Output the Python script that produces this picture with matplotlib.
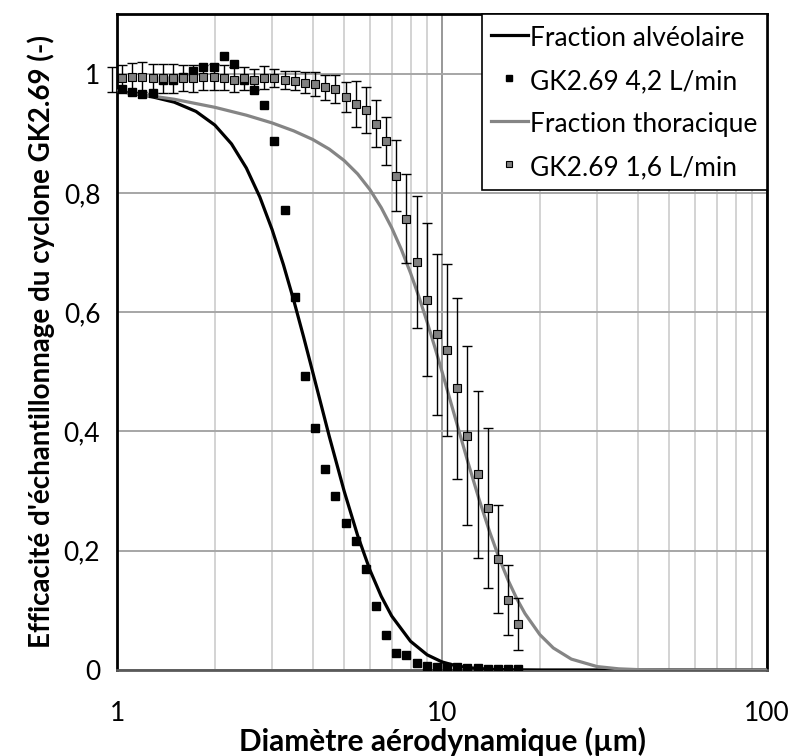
import matplotlib
matplotlib.use('Agg')
import matplotlib.pyplot as plt
from matplotlib.ticker import FixedLocator, NullFormatter, FuncFormatter
from matplotlib.lines import Line2D

plt.rcParams['font.family'] = ['Lato', 'DejaVu Sans']

# diamètres aérodynamiques des canaux (µm)
diam = [0.965, 1.037, 1.114, 1.197, 1.286, 1.382, 1.486, 1.596, 1.715, 1.843, 1.981,
        2.129, 2.288, 2.458, 2.642, 2.839, 3.051, 3.278, 3.523, 3.786, 4.068,
        4.371, 4.698, 5.048, 5.425, 5.829, 6.264, 6.732, 7.234, 7.774, 8.354,
        8.977, 9.647, 10.37, 11.14, 11.97, 12.86, 13.82, 14.86, 15.96, 17.15]

# GK2.69 4,2 L/min (à partir de 1.037 µm)
eff_42 = [0.975, 0.969, 0.966, 0.967, 0.990, 0.990, 0.995, 1.005, 1.011, 1.011,
          1.030, 1.016, 0.990, 0.972, 0.948, 0.887, 0.772, 0.625, 0.493, 0.405,
          0.337, 0.291, 0.247, 0.217, 0.170, 0.108, 0.058, 0.029, 0.025, 0.011,
          0.006, 0.005, 0.005, 0.005, 0.004, 0.004, 0.002, 0.002, 0.002, 0.002]

# GK2.69 1,6 L/min + écart-type
eff_16 = [0.990, 0.993, 0.994, 0.995, 0.992, 0.992, 0.992, 0.993, 0.992, 0.994, 0.994,
          0.993, 0.990, 0.992, 0.990, 0.993, 0.993, 0.989, 0.988, 0.985, 0.982,
          0.977, 0.974, 0.961, 0.949, 0.939, 0.916, 0.887, 0.829, 0.757, 0.684,
          0.621, 0.563, 0.536, 0.472, 0.393, 0.328, 0.271, 0.186, 0.117, 0.077]
err_16 = [0.021, 0.022, 0.024, 0.025, 0.024, 0.024, 0.024, 0.022, 0.022, 0.021, 0.022,
          0.021, 0.021, 0.019, 0.017, 0.019, 0.015, 0.015, 0.016, 0.018, 0.020,
          0.021, 0.024, 0.025, 0.039, 0.038, 0.039, 0.040, 0.059, 0.075, 0.110,
          0.128, 0.135, 0.144, 0.151, 0.150, 0.140, 0.134, 0.091, 0.059, 0.044]

# convention fraction alvéolaire
d_alv = [1, 1.25, 1.5, 1.75, 2, 2.25, 2.5, 2.75, 3, 3.25, 3.5, 3.75, 4, 4.5, 5, 5.5,
         6, 6.5, 7, 8, 9, 10, 11, 12, 14, 16, 20, 30, 100]
f_alv = [0.9707, 0.9626, 0.9521, 0.9366, 0.9137, 0.8822, 0.8417, 0.7932, 0.7385,
         0.6798, 0.6192, 0.5586, 0.4997, 0.3914, 0.2997, 0.2255, 0.1676, 0.1236,
         0.0905, 0.0481, 0.0254, 0.0135, 0.0072, 0.0039, 0.0012, 0.0004, 0.0, 0.0, 0.0]

# convention fraction thoracique
d_tho = [1, 1.5, 2, 2.5, 3, 3.5, 4, 4.5, 5, 5.5, 6, 6.5, 7, 7.5, 8, 8.5, 9, 9.5, 10,
         11, 12, 13, 14, 15, 16, 17, 18, 20, 22, 25, 30, 35, 40, 50, 100]
f_tho = [0.9709, 0.9570, 0.9435, 0.9303, 0.9173, 0.9039, 0.8896, 0.8733, 0.8542,
         0.8318, 0.8055, 0.7753, 0.7416, 0.7049, 0.6657, 0.6249, 0.5833, 0.5415,
         0.5003, 0.4213, 0.3494, 0.2863, 0.2323, 0.1870, 0.1496, 0.1191, 0.0946,
         0.0592, 0.0369, 0.0182, 0.0057, 0.0019, 0.0006, 0.0001, 0.0]

fig = plt.figure(figsize=(7.95, 7.56), dpi=100)
ax = fig.add_axes([0.1472, 0.1138, 0.8176, 0.8677])

ax.plot(d_alv, f_alv, color='black', lw=2.3, zorder=3)
ax.plot(diam[1:], eff_42, 's', color='black', ms=5.8, zorder=4)
ax.plot(d_tho, f_tho, color='#858585', lw=2.3, zorder=3)
ax.errorbar(diam, eff_16, yerr=err_16, fmt='none', ecolor='black', elinewidth=1,
            capsize=3.5, capthick=1, zorder=5, clip_on=False)
ax.plot(diam, eff_16, 's', color='#808080', mec='black', mew=0.8, ms=5.8, zorder=6)

ax.set_xscale('log')
ax.set_xlim(1, 100)
ax.set_ylim(0, 1.1)

ax.xaxis.set_major_locator(FixedLocator([1, 10, 100]))
ax.xaxis.set_major_formatter(FuncFormatter(lambda v, p: '%d' % v))
ax.xaxis.set_minor_locator(FixedLocator([2, 3, 4, 5, 6, 7, 8, 9, 20, 30, 40, 50, 60, 70, 80, 90]))
ax.xaxis.set_minor_formatter(NullFormatter())
ax.set_yticks([0, 0.2, 0.4, 0.6, 0.8, 1.0])
ax.set_yticklabels(['0', '0,2', '0,4', '0,6', '0,8', '1'])
ax.tick_params(axis='both', which='both', length=0, labelsize=19)
ax.tick_params(axis='x', pad=22)
ax.tick_params(axis='y', pad=12)

ax.grid(True, which='major', axis='y', color='#a6a6a6', lw=1.4)
ax.grid(True, which='minor', axis='x', color='#d0d0d0', lw=1.3)
ax.grid(True, which='major', axis='x', color='#909090', lw=1.3)
ax.set_axisbelow(True)

for s in ['top', 'right', 'left']:
    ax.spines[s].set_color('black')
    ax.spines[s].set_linewidth(2)
ax.spines['bottom'].set_color('#595959')
ax.spines['bottom'].set_linewidth(2)

ax.set_xlabel('Diamètre aérodynamique (µm)', fontsize=21.5, fontweight='bold', va='baseline')
ax.xaxis.set_label_coords(0.5, -0.1232)
ax.set_ylabel("Efficacité d'échantillonnage du cyclone GK2.69 (-)", fontsize=20,
              fontweight='bold', labelpad=6)

handles = [
    Line2D([], [], color='black', lw=2.3),
    Line2D([], [], ls='none', marker='s', color='black', ms=5),
    Line2D([], [], color='#858585', lw=2.3),
    Line2D([], [], ls='none', marker='s', color='#808080', mec='black', mew=0.8, ms=5),
]
labels = ['Fraction alvéolaire', 'GK2.69 4,2 L/min', 'Fraction thoracique', 'GK2.69 1,6 L/min']
leg = ax.legend(handles, labels, loc='upper right', fontsize=19, frameon=True,
                fancybox=False, framealpha=1, edgecolor='black', borderaxespad=0,
                handlelength=1.4, handleheight=1.25, handletextpad=0.1,
                labelspacing=0.58, borderpad=0.35)
leg.get_frame().set_linewidth(1.2)
leg.set_zorder(10)

fig.savefig('out.png', dpi=100)
